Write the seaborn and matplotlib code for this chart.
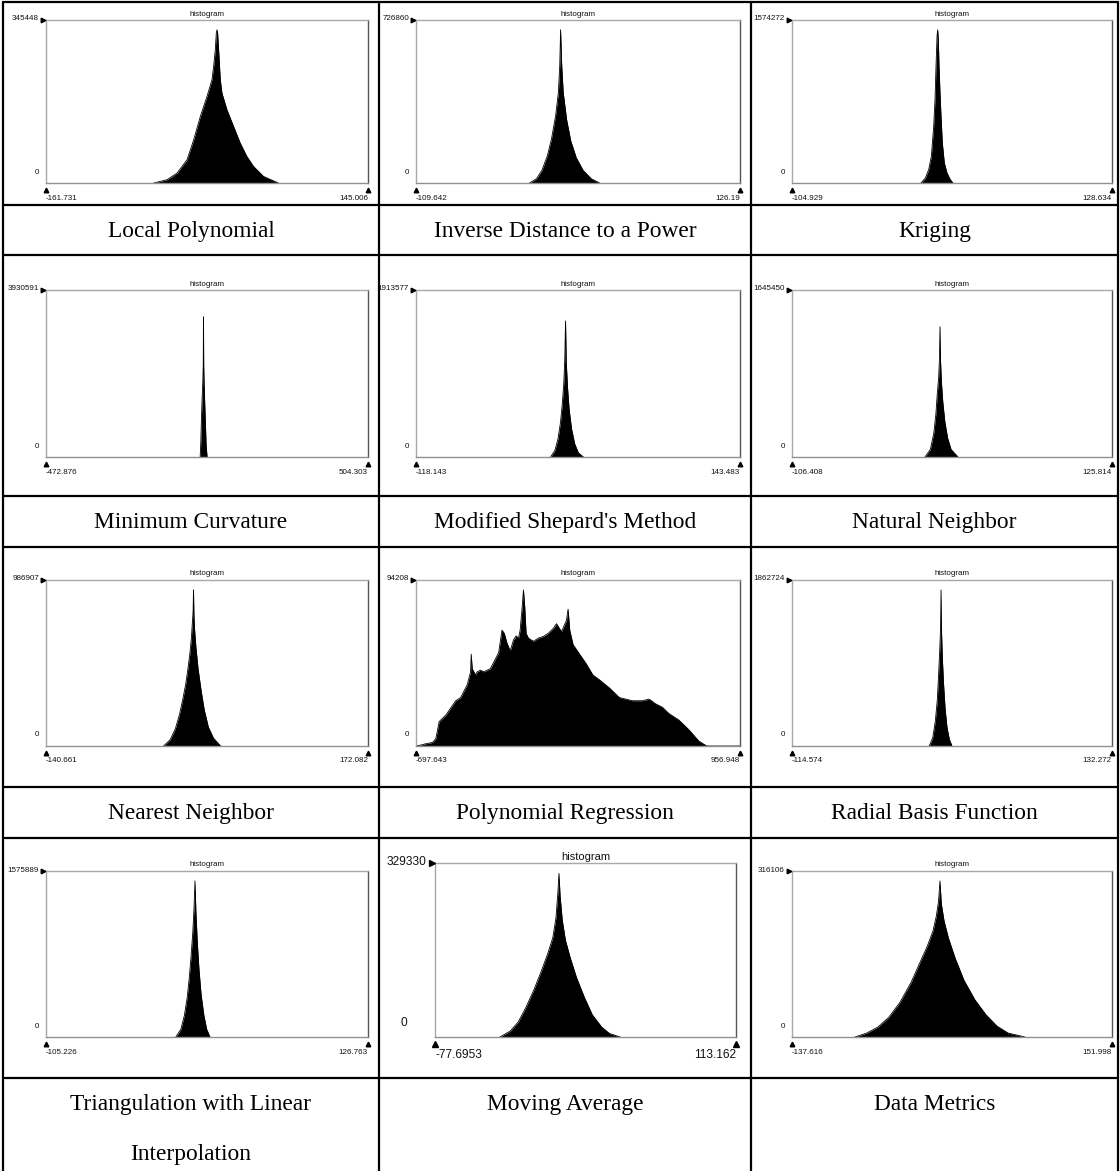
import numpy as np
import matplotlib
matplotlib.use('Agg')
import matplotlib.pyplot as plt
import seaborn as sns
from matplotlib.lines import Line2D

# ---------------- data ----------------
captions = ["Local Polynomial", "Inverse Distance to a Power", "Kriging",
            "Minimum Curvature", "Modified Shepard's Method", "Natural Neighbor",
            "Nearest Neighbor", "Polynomial Regression", "Radial Basis Function",
            "Triangulation with Linear\nInterpolation", "Moving Average", "Data Metrics"]
ymax_labels = ["345448", "726860", "1574272", "3930591", "1913577", "1645450",
               "986907", "94208", "1862724", "1575889", "329330", "316106"]
xmin_labels = ["-161.731", "-109.642", "-104.929", "-472.876", "-118.143", "-106.408",
               "-140.661", "-697.643", "-114.574", "-105.226", "-77.6953", "-137.616"]
xmax_labels = ["145.006", "126.19", "128.634", "504.303", "143.483", "125.814",
               "172.082", "956.948", "132.272", "126.763", "113.162", "151.998"]

lp_x = [-58.96, -46.31, -36.82, -27.34, -21.01, -14.69, -8.36, -3.62, -2.04, -0.46, 0.49, 1.12,
        1.76, 2.70, 4.29, 5.87, 10.61, 16.93, 23.26, 29.58, 35.91, 45.39, 59.62]
lp_y = [0, 7510, 22530, 52570, 97630, 150200, 195260, 232810, 262850, 300400, 337950, 345448,
        337950, 300400, 232810, 202770, 165220, 127670, 90120, 60080, 37550, 15020, 0]

idw_x = [-27, -22, -18, -14, -11, -8, -6, -5, -4.4, -3.6, -2.5, 0, 3, 7, 12, 18, 24]
idw_y = [0, 20000, 60000, 130000, 210000, 320000, 430000, 560000, 726860, 560000, 430000,
         300000, 200000, 120000, 60000, 20000, 0]

kr_x = [-10.77, -7.61, -5.18, -3.23, -1.53, -0.55, 0.18, 0.91, 1.39, 1.88, 2.37, 3.10, 3.83,
        4.80, 6.26, 8.20, 10.64, 12.58]
kr_y = [0, 51300, 136900, 273800, 581800, 855600, 1197800, 1505800, 1574272, 1471600, 1197800,
        924000, 684500, 410700, 205300, 102700, 34200, 0]

mc_x = [-5, -3, -1, 1, 3, 4.3, 5.0, 5.7, 7, 9, 11, 13, 16]
mc_y = [0, 400000, 1000000, 1500000, 1900000, 2300000, 3510000, 2300000, 1800000, 1300000,
        800000, 300000, 0]

ms_x = [-9.5, -6, -3.5, -1.5, 0, 1.2, 2.0, 2.6, 3.2, 4.2, 5.5, 7.5, 10, 13, 17.1]
ms_y = [0, 80000, 220000, 420000, 650000, 900000, 1200000, 1659000, 1150000, 850000,
        580000, 340000, 160000, 50000, 0]

nn_x = [-9.9, -6, -3.5, -2, -1, 0, 0.6, 1.0, 1.4, 2, 3, 4.5, 6.5, 9, 14.1]
nn_y = [0, 80000, 250000, 450000, 660000, 830000, 1030000, 1366000, 1000000, 790000,
        580000, 370000, 200000, 80000, 0]

nr_x = [-26.5, -20, -15, -11, -8, -5, -3, -1, 0.5, 1.5, 2.2, 2.6, 3.0, 3.6, 5, 7, 10, 13, 17,
        22, 28.9]
nr_y = [0, 40000, 110000, 200000, 290000, 390000, 480000, 580000, 680000, 780000, 850000,
        986907, 830000, 740000, 620000, 490000, 350000, 230000, 120000, 50000, 0]

pr_x = [-697.6, -663.9, -655.4, -613.2, -596.3, -579.5, -562.6, -545.7, -528.8, -511.9, -495.0,
        -469.7, -435.9, -419.0, -415.7, -410.6, -393.7, -385.3, -368.4, -351.5, -317.8, -292.4,
        -275.5, -258.6, -246.8, -233.3, -216.4, -199.6, -186.1, -174.2, -165.8, -155.7, -148.9,
        -142.2, -135.4, -123.6, -98.3, -72.9, -47.6, -22.3, 3.0, 19.9, 45.3, 70.6, 79.0, 87.5,
        104.4, 138.1, 171.9, 205.7, 239.4, 290.1, 340.7, 407.9, 458.9, 492.7, 526.5, 560.2,
        594.0, 644.6, 695.3, 745.9, 771.2, 788.1, 956.9]
pr_y = [0, 800, 1160, 2150, 4480, 14710, 16690, 18610, 21520, 24420, 27330,
        29250, 37040, 44780, 55420, 46690, 42860, 44780, 45760, 44780, 46690, 52510,
        56410, 69950, 68040, 62220, 57390, 64140, 66470, 65130, 69950, 83560, 94208,
        83560, 68040, 65130, 63210, 65130, 66120, 68040, 70940, 73850, 69020, 75770, 82570, 69950,
        61230, 55420, 49600, 42860, 39950, 35060, 29250, 27330, 27330, 28320, 25410, 23430,
        19600, 15700, 9890, 3080, 1160, 0, 0]

rb_x = [-8.7, -6, -4, -2.5, -1.5, -0.6, 0.0, 0.4, 0.8, 1.4, 2.3, 3.5, 5, 6.8, 8.8]
rb_y = [0, 100000, 300000, 550000, 850000, 1150000, 1400000, 1862724, 1350000, 1050000,
        750000, 450000, 220000, 80000, 0]

tr_x = [-11.7, -8, -5.5, -3.5, -2, -0.8, 0.5, 1.4, 2.1, 2.8, 3.8, 5, 6.5, 8.5, 10.5, 12.9]
tr_y = [0, 80000, 220000, 400000, 600000, 800000, 1050000, 1300000, 1575889, 1250000,
        950000, 680000, 430000, 220000, 80000, 0]

ma_x = [-36.5, -30, -25, -20, -15, -10, -6, -3, -1, 0.2, 0.9, 1.6, 3, 5, 8, 12, 17, 22, 28, 33,
        39.7]
ma_y = [0, 12000, 30000, 60000, 95000, 135000, 170000, 200000, 240000, 290000, 329330,
        285000, 235000, 195000, 160000, 120000, 80000, 45000, 20000, 7000, 0]

dm_x = [-80.6, -70, -60, -50, -40, -30, -22, -15, -10, -7, -5, -3.7, -2.5, 0, 4, 10, 18,
        28, 38, 48, 58, 73.2]
dm_y = [0, 8000, 20000, 40000, 70000, 110000, 150000, 185000, 215000, 245000, 275000, 316106,
        270000, 235000, 200000, 160000, 115000, 75000, 45000, 22000, 8000, 0]

series_x = [lp_x, idw_x, kr_x, mc_x, ms_x, nn_x, nr_x, pr_x, rb_x, tr_x, ma_x, dm_x]
series_y = [lp_y, idw_y, kr_y, mc_y, ms_y, nn_y, nr_y, pr_y, rb_y, tr_y, ma_y, dm_y]

# ---------------- layout ----------------
W, H = 1120, 1171
sns.set_theme(style='white')
plt.rcParams['font.family'] = ['Liberation Sans', 'DejaVu Sans']

fig = plt.figure(figsize=(W / 100, H / 100), dpi=100)
fig.patch.set_facecolor('white')


def fx(x):
    return x / W


def fy(y):
    return 1 - y / H


# table lines
vlines = [3, 379, 751, 1118]
hlines = [2, 205, 255, 496, 547, 787, 838, 1078]
for x in vlines:
    fig.add_artist(Line2D([fx(x), fx(x)], [fy(2), fy(1171)], color='black', lw=1.6,
                          transform=fig.transFigure))
for y in hlines:
    fig.add_artist(Line2D([fx(3), fx(1118)], [fy(y), fy(y)], color='black', lw=1.6,
                          transform=fig.transFigure))

col_frames = [(46, 368), (416, 740), (792, 1112)]
row_frames = [(20, 183), (290, 457), (580, 746), (871, 1037)]
caption_base = [237, 528, 819, 1110]

for i in range(12):
    r, c = divmod(i, 3)
    x0, x1 = col_frames[c]
    y0, y1 = row_frames[r]
    small = 5.8
    big = False
    if i == 10:
        x0, x1 = 435, 736
        y0, y1 = 863, 1037
        small = 8.6
        big = True
    ax = fig.add_axes([fx(x0), fy(y1), fx(x1 - x0), (y1 - y0) / H])
    xmn = float(xmin_labels[i])
    xmx = float(xmax_labels[i])
    ym = float(ymax_labels[i])
    xs = np.array(series_x[i], dtype=float)
    ys = np.array(series_y[i], dtype=float)
    ax.fill_between(xs, ys, 0, color='black', lw=0)
    sns.lineplot(x=xs, y=ys, ax=ax, color='black', lw=0.6, sort=False)
    ax.set_xlim(xmn, xmx)
    ax.set_ylim(0, ym / 0.94)
    ax.set_xticks([])
    ax.set_yticks([])
    ax.set_xlabel('')
    ax.set_ylabel('')
    ax.set_facecolor('white')
    for s in ['left', 'top']:
        ax.spines[s].set_color('#a8a8a8')
        ax.spines[s].set_linewidth(1.0)
    ax.spines['bottom'].set_color('#909090')
    ax.spines['bottom'].set_linewidth(1.0)
    ax.spines['right'].set_color('#555555')
    ax.spines['right'].set_linewidth(1.0)

    ms_ = 4.5 if big else 3.3
    tcol = '#111111'
    # annotations
    fig.text(fx((x0 + x1) / 2), fy(y0 - 6), 'histogram', ha='center', va='center',
             fontsize=(8.0 if big else 5.8), color=tcol)
    fig.text(fx(x0 - 7 - (2 if big else 0)), fy(y0 - 1), ymax_labels[i], ha='right',
             va='center', fontsize=small, color=tcol)
    fig.add_artist(Line2D([fx(x0 - 3)], [fy(y0)], marker='>', ms=ms_,
                          color='black', transform=fig.transFigure))
    if big:
        fig.text(fx(407), fy(y1 - 14), '0', ha='right', va='center',
                 fontsize=small, color=tcol)
    else:
        fig.text(fx(x0 - 7), fy(y1 - 11), '0', ha='right', va='center',
                 fontsize=small, color=tcol)
    fig.add_artist(Line2D([fx(x0)], [fy(y1 + 7)], marker='^', ms=ms_,
                          color='black', transform=fig.transFigure))
    fig.add_artist(Line2D([fx(x1)], [fy(y1 + 7)], marker='^', ms=ms_,
                          color='black', transform=fig.transFigure))
    fig.text(fx(x0), fy(y1 + 15 if not big else y1 + 18), xmin_labels[i], ha='left',
             va='center', fontsize=small, color=tcol)
    fig.text(fx(x1), fy(y1 + 15 if not big else y1 + 18), xmax_labels[i], ha='right',
             va='center', fontsize=small, color=tcol)

    # caption
    cx = (vlines[c] + vlines[c + 1]) / 2
    for k, line in enumerate(captions[i].split('\n')):
        fig.text(fx(cx), fy(caption_base[r] + 50 * k), line, ha='center', va='baseline',
                 fontsize=16.8, family='Liberation Serif', color='black')

fig.savefig('out.png', dpi=100, facecolor='white')
